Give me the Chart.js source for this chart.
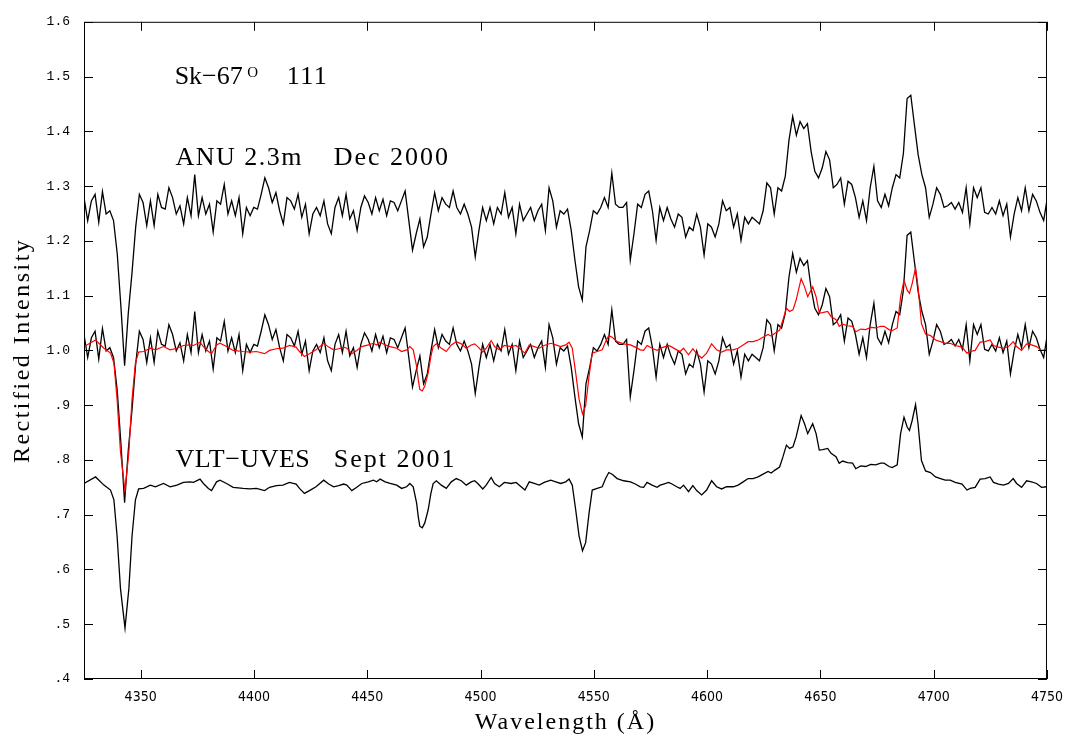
<!DOCTYPE html>
<html><head><meta charset="utf-8">
<script src="https://cdn.jsdelivr.net/npm/chart.js@4/dist/chart.umd.min.js"></script>
<style>html,body{margin:0;padding:0;background:#fff}#wrap{width:1073px;height:742px}</style>
</head><body><div id="wrap"><canvas id="c" width="1073" height="742"></canvas></div>
<script>
// ---- axis ticks ----
const xTicks = [4350, 4400, 4450, 4500, 4550, 4600, 4650, 4700, 4750];
const yTicks = [0.4, 0.5, 0.6, 0.7, 0.8, 0.9, 1.0, 1.1, 1.2, 1.3, 1.4, 1.5, 1.6];
const yTickLabels = ['.4', '.5', '.6', '.7', '.8', '.9', '1.0', '1.1', '1.2', '1.3', '1.4', '1.5', '1.6'];

// ---- ANU 2.3m spectrum (rectified), sampled on a uniform wavelength grid ----
const ANU_START = 4325.0;   // Angstrom
const ANU_STEP = 1.629;     // Angstrom per sample
const anuFlux = [
1.029,0.987,1.023,1.035,0.984,1.040,0.999,1.005,0.987,0.927,0.830,0.722,0.818,0.891,0.975,1.035,1.020,0.978,1.023,0.978,
1.035,1.011,1.008,1.047,1.029,0.999,1.014,0.981,1.029,0.996,1.071,0.996,1.029,0.999,1.017,0.966,1.023,1.017,1.053,0.999,
1.023,0.996,1.029,0.963,1.011,0.996,1.011,1.008,1.035,1.065,1.047,1.020,1.038,1.005,0.981,1.029,1.023,1.008,1.035,0.993,
1.017,0.963,0.999,1.011,0.996,1.023,0.981,0.963,1.011,1.029,0.996,1.035,0.990,1.005,0.969,1.011,1.032,1.020,0.999,1.029,
1.005,1.026,0.996,1.023,1.020,1.005,1.023,1.041,0.987,0.933,0.963,0.990,0.939,0.957,0.999,1.038,1.005,1.029,1.017,1.011,
1.041,1.011,0.999,1.017,0.999,0.975,0.921,0.969,1.011,0.987,1.011,0.981,1.011,0.999,1.038,0.993,1.011,0.963,1.017,0.987,
0.999,1.011,0.987,1.005,1.017,0.969,1.047,1.023,0.975,1.005,0.999,1.008,0.969,0.915,0.866,0.842,0.939,0.969,1.005,0.999,
1.011,1.029,1.011,1.074,1.017,1.011,1.011,1.020,0.915,0.963,1.017,1.011,1.035,1.041,1.005,0.951,1.011,0.987,1.011,0.990,
0.975,0.999,0.993,0.957,0.975,0.969,0.999,0.975,0.924,0.981,0.975,0.957,0.981,1.023,1.005,1.011,0.975,0.999,0.951,0.993,
0.981,0.993,0.987,0.981,1.005,1.056,1.047,0.999,1.047,1.041,1.068,1.134,1.177,1.143,1.168,1.155,1.164,1.113,1.077,1.065,
1.083,1.113,1.098,1.047,1.053,1.065,1.017,1.059,1.053,1.029,0.993,1.023,0.987,1.047,1.086,1.023,1.011,1.035,1.014,1.047,
1.071,1.065,1.110,1.210,1.216,1.161,1.107,1.071,1.047,0.993,1.017,1.047,1.035,1.011,1.014,1.020,1.008,1.020,1.002,1.047,
0.981,1.047,1.029,1.047,1.002,0.999,1.011,0.999,1.023,0.996,1.017,0.957,0.999,1.029,1.005,1.047,1.005,1.035,1.023,1.002,
0.987,1.029,1.029
];

// ---- VLT-UVES spectrum (rectified) ----
const uvesWave = [
4325.0,4330.1,4333.8,4336.7,4338.2,4339.6,4341.1,4343.1,4344.8,4346.2,4347.7,4349.1,4351.3,4354.3,4356.5,4360.1,4363.0,4366.0,4368.9,4371.8,
4373.3,4376.2,4377.7,4379.9,4381.3,4383.5,4385.0,4387.9,4390.8,4395.2,4398.2,4401.1,4404.7,4406.9,4409.9,4412.8,4415.7,4418.6,4420.1,4422.3,
4424.5,4427.4,
4430.8,4433.0,4435.2,4437.4,4439.6,4441.0,4443.2,4445.4,4447.6,4450.5,4452.7,4454.2,4455.7,4457.9,4460.1,4463.0,4465.2,4467.4,4468.8,4470.3,
4471.8,4472.5,4473.2,4474.3,4475.4,4476.9,4478.1,4479.1,4480.5,4482.7,4484.9,4487.1,4489.3,4491.5,4493.7,4495.9,4497.4,4498.8,4501.0,4502.5,
4504.7,4506.2,4508.3,4510.5,4513.5,4515.7,4517.9,4519.6,4521.5,4523.7,4525.9,4528.1,4531.0,4533.2,4535.4,4537.6,
4539.1,4540.5,4542.0,4543.5,4545.0,4546.4,4547.9,4549.3,4551.5,4553.7,4555.2,4556.6,4558.1,4560.3,4563.2,4566.2,4568.3,4570.5,4572.0,4573.5,
4575.7,4577.9,4579.3,4580.8,4583.0,4584.5,4586.6,4588.1,4589.6,4591.8,4593.7,4595.4,4597.6,4599.8,4602.0,4604.2,4606.4,4608.6,4611.5,4613.7,
4615.9,4618.1,4620.3,4622.5,4624.7,4626.9,4628.3,4629.8,4632.0,4633.5,4635.0,4636.4,4637.9,4639.3,4641.5,
4643.0,4644.4,4646.6,4648.1,4649.5,4651.0,4653.2,4654.7,4656.9,4658.3,4659.8,4662.0,4664.2,4665.6,4667.8,4670.0,4672.2,4674.4,4676.6,4678.1,
4680.3,4681.7,4683.9,4685.4,4686.9,4688.3,4689.3,4690.5,4692.0,4693.1,4694.6,4696.4,4698.6,4700.8,4703.0,4705.1,4707.3,4709.5,4712.5,4714.7,
4716.1,4718.3,4720.5,4722.7,4724.9,4726.4,4728.6,4730.8,4733.0,4735.1,4736.6,4738.8,4741.0,4743.2,4745.4,4747.6,4749.8
];
const uvesFlux = [
1.007,1.019,1.004,0.995,0.977,0.911,0.815,0.743,0.815,0.911,0.977,0.997,0.998,1.004,1.001,1.007,1.001,1.004,1.009,1.010,
1.009,1.015,1.007,0.998,0.994,1.010,1.013,1.007,1.000,0.998,0.997,0.998,0.994,1.000,1.003,1.004,1.009,1.006,0.998,0.989,
0.994,1.001,
1.013,1.006,1.001,1.003,1.006,1.004,0.994,1.000,1.007,1.010,1.013,1.010,1.015,1.010,1.007,1.004,0.998,1.001,1.007,1.001,
0.971,0.947,0.929,0.926,0.935,0.959,0.989,1.007,1.012,1.004,0.998,1.010,1.016,1.012,1.004,1.010,1.012,1.007,0.997,1.004,
1.018,1.007,1.001,1.009,1.007,1.009,1.001,0.995,1.010,1.007,1.004,1.009,1.013,1.010,1.007,1.010,
1.015,1.004,0.959,0.911,0.884,0.899,0.953,0.995,0.998,1.001,1.016,1.027,1.024,1.016,1.012,1.010,1.006,1.001,1.000,1.009,
1.004,1.000,1.004,1.006,1.009,1.006,1.001,0.998,1.004,0.992,1.003,0.994,0.986,0.995,1.012,1.001,0.997,1.001,1.001,1.004,
1.010,1.016,1.016,1.019,1.024,1.029,1.026,1.031,1.037,1.056,1.077,1.071,1.074,1.092,1.131,
1.116,1.098,1.116,1.098,1.068,1.069,1.071,1.062,1.056,1.044,1.048,1.045,1.044,1.034,1.039,1.038,1.042,1.041,1.044,1.044,
1.038,1.036,1.041,1.098,1.128,1.110,1.104,1.122,1.151,1.116,1.049,1.030,1.027,1.019,1.016,1.013,1.013,1.009,1.006,0.995,
0.998,1.000,1.015,1.016,1.019,1.009,1.006,1.004,1.007,1.016,1.007,1.000,1.012,1.010,1.007,1.000,1.001
];

// ---- vertical display offsets of the stacked spectra ----
const ANU_TOP_OFFSET = 0.25;
const ANU_MID_OFFSET = 0.0;
const UVES_RED_OFFSET = 0.0;
const UVES_BOTTOM_OFFSET = -0.25;

// ---- text annotations (anchored in data coordinates) ----
const notes = [
  {text: 'Sk\u221267', w: 4365.0, v: 1.487, size: 26, spacing: 0},
  {text: 'O', w: 4397.0, v: 1.500, size: 15, spacing: 0},
  {text: '111', w: 4414.5, v: 1.487, size: 26, spacing: 1.5},
  {text: 'ANU 2.3m', w: 4365.4, v: 1.338, size: 26, spacing: 1.5},
  {text: 'Dec 2000', w: 4435.2, v: 1.338, size: 26, spacing: 2},
  {text: 'VLT\u2212UVES', w: 4365.4, v: 0.7875, size: 26, spacing: 0.5},
  {text: 'Sept 2001', w: 4435.2, v: 0.7875, size: 26, spacing: 2}
];
const xTitle = 'Wavelength (\u00C5)';
const yTitle = 'Rectified Intensity';

const SERIF = '"Liberation Serif", "Times New Roman", serif';

const anuPoints = off => anuFlux.map((f, i) => ({x: ANU_START + i * ANU_STEP, y: f + off}));
const uvesPoints = off => uvesWave.map((w, i) => ({x: w, y: uvesFlux[i] + off}));

const framePlugin = {
  id: 'frameAndText',
  afterDatasetsDraw(chart) {
    const {ctx, chartArea: a, scales: {x, y}} = chart;
    ctx.save();
    ctx.strokeStyle = '#000';
    ctx.lineWidth = 1;
    ctx.strokeRect(a.left + 0.5, a.top + 0.5, a.right - a.left - 1, a.bottom - a.top - 1);
    const TL = 9;
    ctx.beginPath();
    yTicks.forEach(v => {
      const py = Math.round(y.getPixelForValue(v)) + 0.5;
      ctx.moveTo(a.left, py); ctx.lineTo(a.left + TL, py);
      ctx.moveTo(a.right, py); ctx.lineTo(a.right - TL, py);
    });
    xTicks.forEach(v => {
      const px = Math.round(x.getPixelForValue(v)) + 0.5;
      ctx.moveTo(px, a.bottom); ctx.lineTo(px, a.bottom - TL);
      ctx.moveTo(px, a.top); ctx.lineTo(px, a.top + TL);
    });
    ctx.stroke();

    ctx.fillStyle = '#000';
    ctx.textAlign = 'left';
    ctx.textBaseline = 'alphabetic';
    notes.forEach(n => {
      ctx.font = n.size + 'px ' + SERIF;
      ctx.letterSpacing = n.spacing + 'px';
      ctx.fillText(n.text, x.getPixelForValue(n.w), y.getPixelForValue(n.v));
    });

    // axis titles
    ctx.font = '24px ' + SERIF;
    ctx.letterSpacing = '2px';
    ctx.textAlign = 'center';
    ctx.fillText(xTitle, (a.left + a.right) / 2, a.bottom + 50);
    ctx.save();
    ctx.translate(a.left - 55, (a.top + a.bottom) / 2);
    ctx.rotate(-Math.PI / 2);
    ctx.letterSpacing = '2.5px';
    ctx.fillText(yTitle, 0, 0);
    ctx.restore();
    ctx.restore();
  }
};

new Chart(document.getElementById('c'), {
  type: 'line',
  data: {
    datasets: [
      {label: 'UVES smoothed', data: uvesPoints(UVES_RED_OFFSET), borderColor: '#ff0000', borderWidth: 1.2, pointRadius: 0, tension: 0, order: 0},
      {label: 'ANU top', data: anuPoints(ANU_TOP_OFFSET), borderColor: '#000', borderWidth: 1.3, pointRadius: 0, tension: 0, order: 1},
      {label: 'ANU', data: anuPoints(ANU_MID_OFFSET), borderColor: '#000', borderWidth: 1.3, pointRadius: 0, tension: 0, order: 2},
      {label: 'VLT-UVES', data: uvesPoints(UVES_BOTTOM_OFFSET), borderColor: '#000', borderWidth: 1.3, pointRadius: 0, tension: 0, order: 3}
    ]
  },
  options: {
    responsive: false,
    animation: false,
    devicePixelRatio: 1,
    layout: {padding: {top: 12, right: 21, left: 0, bottom: 0}},
    plugins: {legend: {display: false}, tooltip: {enabled: false}},
    scales: {
      x: {
        type: 'linear', min: 4325, max: 4750,
        afterBuildTicks: s => { s.ticks = xTicks.map(v => ({value: v})); },
        afterFit: s => { s.height = 63; },
        grid: {display: false, drawTicks: false},
        border: {display: false},
        ticks: {color: '#000', font: {family: '"DejaVu Sans Condensed", "DejaVu Sans", sans-serif', size: 14}, padding: 10, maxRotation: 0, autoSkip: false, callback: v => String(v)}
      },
      y: {
        type: 'linear', min: 0.4, max: 1.6,
        afterBuildTicks: s => { s.ticks = yTicks.map(v => ({value: v})); },
        afterFit: s => { s.width = 84; },
        grid: {display: false, drawTicks: false},
        border: {display: false},
        ticks: {color: '#000', font: {family: '"Liberation Mono", monospace', size: 13}, padding: 14, autoSkip: false, callback: (v, i) => yTickLabels[i]}
      }
    }
  },
  plugins: [framePlugin]
});
</script>
</body></html>
